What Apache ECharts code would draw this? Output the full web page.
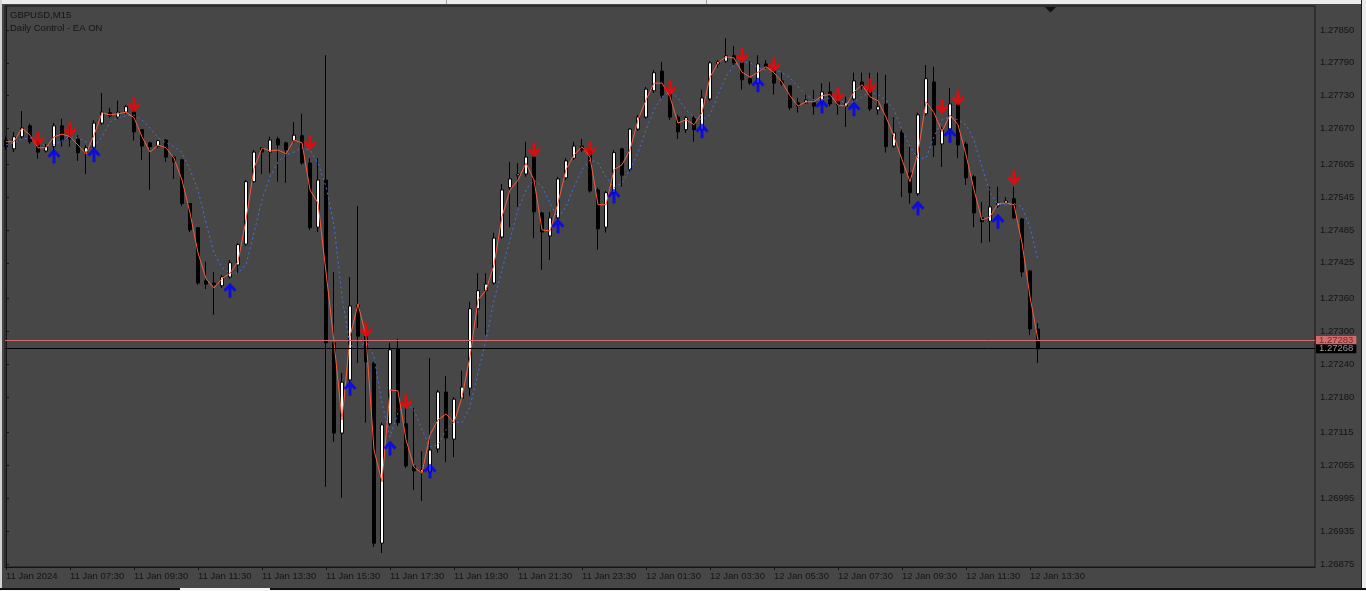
<!DOCTYPE html>
<html>
<head>
<meta charset="utf-8">
<title>GBPUSD,M15</title>
<script src="https://cdn.jsdelivr.net/npm/echarts@6.0.0/dist/echarts.min.js"></script>
<style>
  html, body { margin: 0; padding: 0; background: #474747; }
  #chart { width: 1366px; height: 591px; }
</style>
</head>
<body>
<div id="chart"></div>
<script>
// GBPUSD M15 bars, 11 Jan 05:30 .. 12 Jan 13:45
const opens = [
  1.27649, 1.27633, 1.27655, 1.27675, 1.27646, 1.27629, 1.27637, 1.27675, 1.27655, 1.27651,
  1.27627, 1.27635, 1.27680, 1.27699, 1.27691, 1.27700, 1.27700, 1.27668, 1.27644, 1.27638,
  1.27649, 1.27618, 1.27613, 1.27533, 1.27489, 1.27392, 1.27388, 1.27383, 1.27399, 1.27421,
  1.27459, 1.27573, 1.27635, 1.27627, 1.27651, 1.27644, 1.27648, 1.27657, 1.27607, 1.27490,
  1.27576, 1.27279, 1.27114, 1.27211, 1.27348, 1.27291, 1.27242, 1.26913, 1.27131, 1.27268,
  1.27131, 1.27054, 1.27043, 1.27043, 1.27085, 1.27189, 1.27103, 1.27178, 1.27196, 1.27341,
  1.27374, 1.27388, 1.27472, 1.27562, 1.27584, 1.27587, 1.27618, 1.27516, 1.27474, 1.27507,
  1.27580, 1.27616, 1.27638, 1.27629, 1.27558, 1.27490, 1.27553, 1.27633, 1.27595, 1.27669,
  1.27691, 1.27739, 1.27775, 1.27733, 1.27691, 1.27668, 1.27690, 1.27668, 1.27724, 1.27788,
  1.27793, 1.27803, 1.27790, 1.27761, 1.27753, 1.27788, 1.27777, 1.27757, 1.27748, 1.27717,
  1.27717, 1.27717, 1.27719, 1.27737, 1.27719, 1.27711, 1.27724, 1.27755, 1.27741, 1.27704,
  1.27715, 1.27638, 1.27664, 1.27589, 1.27551, 1.27697, 1.27755, 1.27642, 1.27669, 1.27713,
  1.27642, 1.27582, 1.27507, 1.27501, 1.27529, 1.27534, 1.27542, 1.27505, 1.27410, 1.27304
]
const closes = [
  1.27637, 1.27655, 1.27671, 1.27646, 1.27627, 1.27637, 1.27675, 1.27648, 1.27651, 1.27626,
  1.27635, 1.27680, 1.27700, 1.27693, 1.27700, 1.27710, 1.27664, 1.27638, 1.27637, 1.27648,
  1.27618, 1.27609, 1.27533, 1.27485, 1.27388, 1.27386, 1.27385, 1.27399, 1.27425, 1.27458,
  1.27573, 1.27627, 1.27627, 1.27649, 1.27640, 1.27631, 1.27658, 1.27607, 1.27489, 1.27576,
  1.27279, 1.27114, 1.27207, 1.27346, 1.27291, 1.27244, 1.26913, 1.27129, 1.27266, 1.27133,
  1.27054, 1.27045, 1.27047, 1.27083, 1.27189, 1.27105, 1.27176, 1.27198, 1.27341, 1.27374,
  1.27386, 1.27470, 1.27558, 1.27578, 1.27587, 1.27618, 1.27518, 1.27481, 1.27507, 1.27578,
  1.27611, 1.27638, 1.27631, 1.27556, 1.27487, 1.27553, 1.27626, 1.27585, 1.27669, 1.27691,
  1.27742, 1.27772, 1.27730, 1.27691, 1.27664, 1.27690, 1.27668, 1.27726, 1.27790, 1.27792,
  1.27803, 1.27790, 1.27759, 1.27753, 1.27788, 1.27783, 1.27753, 1.27752, 1.27708, 1.27711,
  1.27722, 1.27711, 1.27737, 1.27715, 1.27713, 1.27717, 1.27757, 1.27746, 1.27706, 1.27710,
  1.27637, 1.27662, 1.27589, 1.27553, 1.27695, 1.27761, 1.27640, 1.27669, 1.27715, 1.27640,
  1.27580, 1.27516, 1.27500, 1.27527, 1.27534, 1.27538, 1.27507, 1.27408, 1.27304, 1.27268
]
const lows = [
  1.27631, 1.27627, 1.27651, 1.27642, 1.27615, 1.27626, 1.27627, 1.27637, 1.27637, 1.27611,
  1.27587, 1.27631, 1.27677, 1.27690, 1.27688, 1.27697, 1.27648, 1.27613, 1.27558, 1.27635,
  1.27609, 1.27578, 1.27529, 1.27481, 1.27385, 1.27377, 1.27330, 1.27379, 1.27396, 1.27405,
  1.27456, 1.27571, 1.27587, 1.27589, 1.27573, 1.27571, 1.27644, 1.27604, 1.27485, 1.27481,
  1.27016, 1.27098, 1.26996, 1.27207, 1.27242, 1.27133, 1.26906, 1.26895, 1.27127, 1.27127,
  1.27050, 1.27010, 1.26990, 1.27039, 1.27078, 1.27061, 1.27070, 1.27175, 1.27182, 1.27306,
  1.27293, 1.27385, 1.27469, 1.27490, 1.27527, 1.27582, 1.27470, 1.27412, 1.27430, 1.27503,
  1.27576, 1.27613, 1.27627, 1.27553, 1.27449, 1.27480, 1.27549, 1.27564, 1.27591, 1.27666,
  1.27688, 1.27735, 1.27726, 1.27686, 1.27651, 1.27662, 1.27646, 1.27664, 1.27721, 1.27781,
  1.27790, 1.27786, 1.27741, 1.27750, 1.27750, 1.27779, 1.27732, 1.27748, 1.27704, 1.27699,
  1.27715, 1.27695, 1.27715, 1.27711, 1.27695, 1.27673, 1.27721, 1.27741, 1.27702, 1.27695,
  1.27626, 1.27635, 1.27545, 1.27533, 1.27547, 1.27693, 1.27618, 1.27600, 1.27666, 1.27616,
  1.27567, 1.27490, 1.27461, 1.27463, 1.27525, 1.27531, 1.27505, 1.27399, 1.27293, 1.27242
]
const highs = [
  1.27655, 1.27664, 1.27702, 1.27679, 1.27649, 1.27642, 1.27680, 1.27688, 1.27675, 1.27658,
  1.27640, 1.27686, 1.27735, 1.27708, 1.27721, 1.27713, 1.27708, 1.27669, 1.27646, 1.27649,
  1.27651, 1.27620, 1.27615, 1.27534, 1.27490, 1.27427, 1.27408, 1.27403, 1.27430, 1.27461,
  1.27576, 1.27631, 1.27635, 1.27655, 1.27655, 1.27646, 1.27682, 1.27697, 1.27616, 1.27616,
  1.27804, 1.27408, 1.27224, 1.27399, 1.27529, 1.27297, 1.27244, 1.27133, 1.27279, 1.27286,
  1.27160, 1.27160, 1.27081, 1.27251, 1.27193, 1.27218, 1.27180, 1.27228, 1.27354, 1.27406,
  1.27406, 1.27480, 1.27569, 1.27609, 1.27607, 1.27646, 1.27622, 1.27518, 1.27518, 1.27582,
  1.27616, 1.27646, 1.27651, 1.27633, 1.27562, 1.27556, 1.27631, 1.27635, 1.27671, 1.27695,
  1.27746, 1.27777, 1.27792, 1.27735, 1.27695, 1.27693, 1.27693, 1.27741, 1.27793, 1.27795,
  1.27835, 1.27821, 1.27795, 1.27793, 1.27804, 1.27795, 1.27781, 1.27772, 1.27748, 1.27726,
  1.27735, 1.27741, 1.27753, 1.27755, 1.27732, 1.27728, 1.27772, 1.27772, 1.27772, 1.27772,
  1.27768, 1.27691, 1.27668, 1.27637, 1.27699, 1.27786, 1.27783, 1.27673, 1.27744, 1.27717,
  1.27646, 1.27585, 1.27536, 1.27564, 1.27564, 1.27545, 1.27564, 1.27507, 1.27412, 1.27315
]

// fast (red) and slow (blue dotted) indicator lines, one value per bar
const fastLine = [
  1.27646, 1.27646, 1.27671, 1.27658, 1.27635, 1.27635, 1.27655, 1.27660, 1.27655, 1.27640,
  1.27624, 1.27658, 1.27699, 1.27695, 1.27697, 1.27700, 1.27690, 1.27655, 1.27627, 1.27640,
  1.27635, 1.27616, 1.27576, 1.27516, 1.27443, 1.27396, 1.27379, 1.27396, 1.27406, 1.27427,
  1.27503, 1.27598, 1.27635, 1.27629, 1.27631, 1.27624, 1.27649, 1.27644, 1.27558, 1.27534,
  1.27408, 1.27280, 1.27138, 1.27290, 1.27350, 1.27290, 1.27083, 1.27025, 1.27193, 1.27191,
  1.27102, 1.27052, 1.27041, 1.27111, 1.27138, 1.27149, 1.27133, 1.27180, 1.27253, 1.27357,
  1.27375, 1.27421, 1.27509, 1.27558, 1.27576, 1.27607, 1.27576, 1.27485, 1.27483, 1.27534,
  1.27595, 1.27622, 1.27637, 1.27618, 1.27531, 1.27531, 1.27595, 1.27604, 1.27631, 1.27686,
  1.27722, 1.27753, 1.27753, 1.27728, 1.27680, 1.27686, 1.27677, 1.27699, 1.27764, 1.27790,
  1.27801, 1.27799, 1.27773, 1.27764, 1.27773, 1.27783, 1.27772, 1.27755, 1.27730, 1.27711,
  1.27719, 1.27719, 1.27730, 1.27732, 1.27713, 1.27711, 1.27737, 1.27750, 1.27728, 1.27721,
  1.27691, 1.27655, 1.27613, 1.27573, 1.27626, 1.27719, 1.27699, 1.27664, 1.27695, 1.27677,
  1.27622, 1.27558, 1.27503, 1.27509, 1.27533, 1.27534, 1.27531, 1.27461, 1.27363, 1.27284
]
const slowLine = [
  1.27640, 1.27644, 1.27651, 1.27653, 1.27646, 1.27638, 1.27640, 1.27648, 1.27655, 1.27653,
  1.27646, 1.27637, 1.27655, 1.27682, 1.27690, 1.27693, 1.27695, 1.27686, 1.27671, 1.27653,
  1.27644, 1.27637, 1.27626, 1.27595, 1.27558, 1.27498, 1.27443, 1.27416, 1.27406, 1.27406,
  1.27421, 1.27480, 1.27540, 1.27582, 1.27609, 1.27622, 1.27627, 1.27635, 1.27631, 1.27607,
  1.27564, 1.27494, 1.27363, 1.27275, 1.27266, 1.27284, 1.27253, 1.27169, 1.27107, 1.27151,
  1.27169, 1.27156, 1.27120, 1.27089, 1.27092, 1.27120, 1.27134, 1.27133, 1.27162, 1.27224,
  1.27284, 1.27357, 1.27412, 1.27467, 1.27522, 1.27558, 1.27576, 1.27564, 1.27534, 1.27507,
  1.27527, 1.27564, 1.27595, 1.27613, 1.27607, 1.27582, 1.27562, 1.27571, 1.27595, 1.27626,
  1.27668, 1.27704, 1.27728, 1.27737, 1.27726, 1.27704, 1.27691, 1.27686, 1.27695, 1.27732,
  1.27764, 1.27786, 1.27792, 1.27790, 1.27781, 1.27777, 1.27779, 1.27772, 1.27763, 1.27746,
  1.27732, 1.27722, 1.27722, 1.27726, 1.27722, 1.27717, 1.27719, 1.27728, 1.27737, 1.27732,
  1.27722, 1.27704, 1.27668, 1.27637, 1.27616, 1.27616, 1.27655, 1.27686, 1.27691, 1.27686,
  1.27677, 1.27649, 1.27600, 1.27553, 1.27531, 1.27531, 1.27533, 1.27527, 1.27490, 1.27430
]

// signal arrows: bar index + price where the arrow sits
const sellBars = [4, 8, 16, 38, 45, 50, 66, 73, 83, 92, 96, 104, 108, 117, 119, 126]
const sellPrices = [1.27651, 1.27668, 1.27713, 1.27644, 1.27302, 1.27171, 1.27631, 1.27633,
  1.27744, 1.27803, 1.27786, 1.27732, 1.27748, 1.27710, 1.27726, 1.27580]
const buyBars = [6, 11, 28, 43, 48, 53, 69, 76, 87, 94, 102, 106, 114, 118, 124]
const buyPrices = [1.27620, 1.27622, 1.27375, 1.27196, 1.27087, 1.27045, 1.27492, 1.27547,
  1.27666, 1.27750, 1.27711, 1.27706, 1.27525, 1.27658, 1.27501]

const timeLabels = ['11 Jan 2024', '11 Jan 07:30', '11 Jan 09:30', '11 Jan 11:30', '11 Jan 13:30',
  '11 Jan 15:30', '11 Jan 17:30', '11 Jan 19:30', '11 Jan 21:30', '11 Jan 23:30', '12 Jan 01:30',
  '12 Jan 03:30', '12 Jan 05:30', '12 Jan 07:30', '12 Jan 09:30', '12 Jan 11:30', '12 Jan 13:30']
const priceTicks = [1.27850, 1.27790, 1.27730, 1.27670, 1.27605, 1.27545, 1.27485, 1.27425, 1.27360,
  1.27300, 1.27240, 1.27180, 1.27115, 1.27055, 1.26995, 1.26935, 1.26875]

const askPrice = 1.27283
const bidPrice = 1.27268

const FONT = '"Liberation Sans", Arial, sans-serif'
const TEXT = '#141414'
const FRAME = '#161616'
const BG = '#474747'

const DOWN_ARROW = 'path://M5,0 L8,0 L8,8 L11,5 L13,7 L6.5,13.5 L0,7 L2,5 L5,8 Z'
const UP_ARROW = 'path://M5,13.5 L8,13.5 L8,5.5 L11,8.5 L13,6.5 L6.5,0 L0,6.5 L2,8.5 L5,5.5 Z'

const candles = opens.map((o, i) => [i, o, closes[i], lows[i], highs[i]])
const labelBars = timeLabels.map((t, i) => i * 8)

function priceLine(price, color, textColor) {
  return {
    yAxis: price,
    lineStyle: { color: color, type: 'solid', width: 1 },
    label: {
      position: 'end',
      distance: 1,
      formatter: price.toFixed(5),
      color: textColor,
      backgroundColor: color,
      padding: [0, 3, 0, 3],
      fontSize: 9.5,
      lineHeight: 9,
      fontFamily: FONT
    }
  }
}

const chart = echarts.init(document.getElementById('chart'))
chart.setOption({
  animation: false,
  backgroundColor: BG,
  textStyle: { fontFamily: FONT },
  title: [
    {
      text: 'GBPUSD,M15',
      left: 10,
      top: 10,
      padding: 0,
      textStyle: { color: TEXT, fontSize: 9.5, fontWeight: 'normal', fontFamily: FONT }
    },
    {
      text: 'Daily Control - EA ON',
      left: 10,
      top: 23,
      padding: 0,
      textStyle: { color: TEXT, fontSize: 9.5, fontWeight: 'normal', fontFamily: FONT }
    }
  ],
  grid: {
    left: 5,
    right: 51,
    top: 6,
    bottom: 24,
    show: true,
    backgroundColor: BG,
    borderColor: FRAME,
    borderWidth: 1
  },
  xAxis: {
    type: 'value',
    min: -0.125,
    max: 163.625,
    axisLine: { show: true, lineStyle: { color: FRAME } },
    axisTick: { show: true, length: 3, customValues: labelBars, lineStyle: { color: FRAME } },
    axisLabel: {
      customValues: labelBars,
      align: 'left',
      margin: 4,
      color: TEXT,
      fontSize: 9.5,
      fontFamily: FONT,
      formatter: v => timeLabels[Math.round(v / 8)]
    },
    splitLine: { show: false }
  },
  yAxis: {
    type: 'value',
    position: 'right',
    min: 1.268695,
    max: 1.278938,
    axisLine: { show: true, lineStyle: { color: FRAME } },
    axisTick: { show: true, length: 3, customValues: priceTicks, lineStyle: { color: FRAME } },
    axisLabel: {
      customValues: priceTicks,
      margin: 5,
      color: TEXT,
      fontSize: 9.5,
      fontFamily: FONT,
      formatter: v => v.toFixed(5)
    },
    splitLine: { show: false }
  },
  series: [
    {
      type: 'candlestick',
      data: candles,
      encode: { x: 0, y: [1, 2, 3, 4] },
      barWidth: 4,
      itemStyle: {
        color: '#ffffff',
        color0: '#000000',
        borderColor: '#000000',
        borderColor0: '#000000',
        borderWidth: 1
      },
      z: 2
    },
    {
      type: 'line',
      data: slowLine.map((v, i) => [i, v]),
      symbol: 'none',
      lineStyle: { color: '#4a6fe8', width: 1, type: [2, 3] },
      z: 3
    },
    {
      type: 'line',
      data: fastLine.map((v, i) => [i, v]),
      symbol: 'none',
      lineStyle: { color: '#ff5a3c', width: 1 },
      // ask / bid lines with their price tags on the scale
      markLine: {
        silent: true,
        symbol: 'none',
        precision: 5,
        data: [
          priceLine(askPrice, '#d26c6c', '#6e2a2a'),
          priceLine(bidPrice, '#000000', '#9a9a9a')
        ]
      },
      z: 4
    },
    {
      type: 'scatter',
      data: sellBars.map((b, i) => [b, sellPrices[i]]),
      symbol: DOWN_ARROW,
      symbolSize: [13, 15],
      symbolKeepAspect: false,
      itemStyle: { color: '#ff0000' },
      z: 5
    },
    {
      type: 'scatter',
      data: buyBars.map((b, i) => [b, buyPrices[i]]),
      symbol: UP_ARROW,
      symbolSize: [13, 15],
      symbolKeepAspect: false,
      itemStyle: { color: '#0000ff' },
      z: 5
    }
  ],
  graphic: [
    // window edges of the terminal
    { type: 'rect', shape: { x: 0, y: 0, width: 1366, height: 4 }, style: { fill: '#ececec' } },
    { type: 'rect', shape: { x: 446, y: 0, width: 1, height: 4 }, style: { fill: '#a0a0a0' } },
    { type: 'rect', shape: { x: 706, y: 0, width: 1, height: 4 }, style: { fill: '#a0a0a0' } },
    { type: 'rect', shape: { x: 0, y: 0, width: 2, height: 591 }, style: { fill: '#d4d4d4' } },
    { type: 'rect', shape: { x: 1361, y: 0, width: 1, height: 591 }, style: { fill: '#202020' } },
    { type: 'rect', shape: { x: 1362, y: 0, width: 4, height: 591 }, style: { fill: '#ececec' } },
    { type: 'rect', shape: { x: 0, y: 588, width: 1366, height: 2 }, style: { fill: '#101010' } },
    { type: 'rect', shape: { x: 0, y: 590, width: 1366, height: 1 }, style: { fill: '#f4f4f4' } },
    { type: 'rect', shape: { x: 180, y: 588, width: 90, height: 3 }, style: { fill: '#f4f4f4' } },
    // chart shift marker
    { type: 'polygon', shape: { points: [[1045, 7], [1056, 7], [1050.5, 12.5]] }, style: { fill: '#111111' } }
  ]
})
</script>
</body>
</html>
